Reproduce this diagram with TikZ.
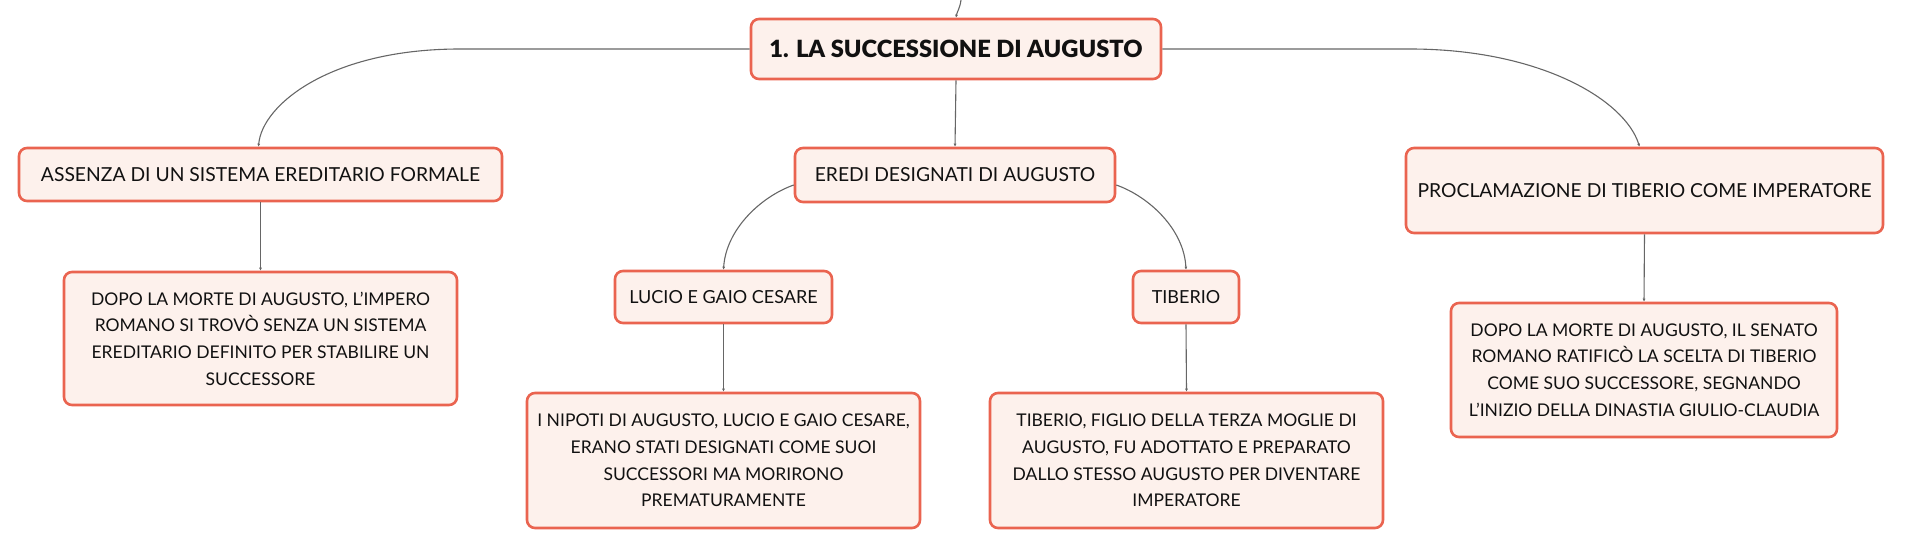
\documentclass[tikz,border=0pt]{standalone}
\usepackage{fontspec}
\setmainfont{Lato}
\IfFontExistsTF{Lato Black}{\newfontfamily\titlefont{Lato Black}}{\newfontfamily\titlefont{Lato}[UprightFont=*-Bold]}
\usetikzlibrary{arrows.meta,calc}
\definecolor{bordc}{HTML}{EA6450}
\definecolor{fillc}{HTML}{FDF1EC}
\definecolor{linec}{HTML}{666666}
\definecolor{txtc}{HTML}{111111}
\begin{document}
\begin{tikzpicture}[x=1pt,y=-1pt,
  box/.style={draw=bordc,fill=fillc,line width=2.6pt,rounded corners=8pt,
    align=center,inner sep=0pt,text=txtc,font=\fontsize{17.5}{26.7}\selectfont},
  topbox/.style={box,font=\fontsize{19.3}{26.7}\selectfont},
  midbox/.style={box,font=\fontsize{18}{26.7}\selectfont},
  conn/.style={draw=linec,line width=1.1pt,-{Latex[length=3pt,width=3pt]}}]
\useasboundingbox (0,0) rectangle (1912,549);
\node[box,minimum width=410pt,minimum height=60pt,font=\titlefont\fontsize{23.7}{28}\selectfont] (main) at (956,49) {1. LA SUCCESSIONE DI AUGUSTO};
\node[topbox,minimum width=320pt,minimum height=54pt] (eredi) at (955,175) {EREDI DESIGNATI DI AUGUSTO};
\node[topbox,minimum width=483pt,minimum height=53pt] (assenza) at (260.5,174.5) {ASSENZA DI UN SISTEMA EREDITARIO FORMALE};
\node[topbox,minimum width=477pt,minimum height=85pt] (proc) at (1644.5,190.5) {PROCLAMAZIONE DI TIBERIO COME IMPERATORE};
\node[midbox,minimum width=217pt,minimum height=52pt] (lucio) at (723.5,297) {LUCIO E GAIO CESARE};
\node[midbox,minimum width=106pt,minimum height=52pt] (tiberio) at (1186,297) {TIBERIO};
\node[box,minimum width=393pt,minimum height=133pt] (dopo1) at (260.5,338.5) {DOPO LA MORTE DI AUGUSTO, L'IMPERO\\ROMANO SI TROVÒ SENZA UN SISTEMA\\EREDITARIO DEFINITO PER STABILIRE UN\\SUCCESSORE};
\node[box,minimum width=393pt,minimum height=135pt] (nipoti) at (723.5,460.5) {I NIPOTI DI AUGUSTO, LUCIO E GAIO CESARE,\\ERANO STATI DESIGNATI COME SUOI\\SUCCESSORI MA MORIRONO\\PREMATURAMENTE};
\node[box,minimum width=393pt,minimum height=135pt] (tibdesc) at (1186.5,460.5) {TIBERIO, FIGLIO DELLA TERZA MOGLIE DI\\AUGUSTO, FU ADOTTATO E PREPARATO\\DALLO STESSO AUGUSTO PER DIVENTARE\\IMPERATORE};
\node[box,minimum width=386pt,minimum height=134pt] (dopo2) at (1644,370) {DOPO LA MORTE DI AUGUSTO, IL SENATO\\ROMANO RATIFICÒ LA SCELTA DI TIBERIO\\COME SUO SUCCESSORE, SEGNANDO\\L'INIZIO DELLA DINASTIA GIULIO-CLAUDIA};
\coordinate (topin) at (961,0);
\draw[conn] (topin) .. controls (960,8) and (957,12) .. (main.north);
\draw[conn] (main.west) -- (460,49) .. controls (330,49) and (262,105) .. ([xshift=-2pt]assenza.north);
\draw[conn] (main.east) -- (1410,49) .. controls (1540,49) and (1625,100) .. ([xshift=-5pt]proc.north);
\draw[conn] (main.south) -- (eredi.north);
\draw[conn] ([yshift=-10pt]eredi.west) .. controls (760,197) and (726,230) .. (lucio.north);
\draw[conn] ([yshift=-10pt]eredi.east) .. controls (1150,197) and (1184,230) .. (tiberio.north);
\draw[conn] (assenza.south) -- (dopo1.north);
\draw[conn] (lucio.south) -- (nipoti.north);
\draw[conn] (tiberio.south) -- (tibdesc.north);
\draw[conn] (proc.south) -- (dopo2.north);
\end{tikzpicture}
\end{document}
